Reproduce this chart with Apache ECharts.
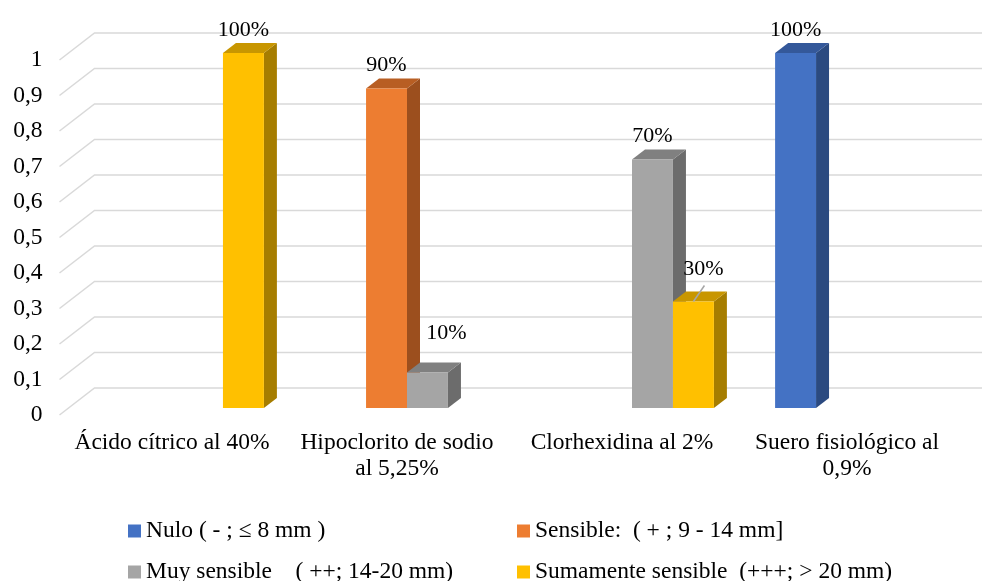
<!DOCTYPE html>
<html>
<head>
<meta charset="utf-8">
<script src="https://cdn.jsdelivr.net/npm/echarts@6/dist/echarts.min.js"></script>
<style>
  html, body { margin: 0; padding: 0; background: #fff; }
  #chart { width: 982px; height: 581px; }
</style>
</head>
<body>
<div id="chart"></div>
<script>
// categories (x axis)
var categories = ['Ácido cítrico al 40%', 'Hipoclorito de sodio\nal 5,25%', 'Clorhexidina al 2%', 'Suero fisiológico al\n0,9%'];

// one array per series
var nulo = [0, 0, 0, 1];
var sensible = [0, 0.9, 0, 0];
var muySensible = [0, 0.1, 0.7, 0];
var sumamente = [1, 0, 0.3, 0];

var seriesNames = [
  'Nulo ( - ; ≤ 8 mm )',
  'Sensible:  ( + ; 9 - 14 mm]',
  'Muy sensible    ( ++; 14-20 mm)',
  'Sumamente sensible  (+++; > 20 mm)'
];

// y tick labels
var yTicks = [0, 0.1, 0.2, 0.3, 0.4, 0.5, 0.6, 0.7, 0.8, 0.9, 1];

// style stuff
var colors = [
  { front: '#4472C4', top: '#34589a', side: '#2b4a80' },
  { front: '#ED7D31', top: '#b85e23', side: '#9c4f1e' },
  { front: '#A5A5A5', top: '#808080', side: '#6c6c6c' },
  { front: '#FFC000', top: '#c89600', side: '#a67d00' }
];
var FONT = 'Liberation Serif, Times New Roman, serif';
var WALL = [35, -27];      // back wall offset
var SHIFT = [10, -7];      // bars sit a bit into the depth
var DEPTH = [13, -10];     // bar thickness
var BAR_RATIO = 0.182;
// manual label moves (series-category)
var labelNudge = { '2-1': [19, -16, false], '3-2': [10, -9, true] };
// legend slots: [left, top]
var legendPos = [[128, 519], [517, 519], [128, 560], [517, 560]];

var allSeries = [nulo, sensible, muySensible, sumamente];

function barRenderer(sIdx) {
  return function (params, api) {
    var ci = api.value(0);
    var v = api.value(1);
    if (!v) return;
    var base = api.coord([ci, 0]);
    var topPt = api.coord([ci, v]);
    var band = api.size([1, 0])[0];
    var w = band * BAR_RATIO;
    var x0 = base[0] + SHIFT[0] - 2 * w + sIdx * w;
    var x1 = x0 + w;
    var yb = base[1] + SHIFT[1];
    var yt = topPt[1] + SHIFT[1];
    var c = colors[sIdx];
    var children = [
      { type: 'polygon', shape: { points: [[x1, yb], [x1 + DEPTH[0], yb + DEPTH[1]], [x1 + DEPTH[0], yt + DEPTH[1]], [x1, yt]] }, style: { fill: c.side } },
      { type: 'polygon', shape: { points: [[x0, yt], [x1, yt], [x1 + DEPTH[0], yt + DEPTH[1]], [x0 + DEPTH[0], yt + DEPTH[1]]] }, style: { fill: c.top } },
      { type: 'rect', shape: { x: x0, y: yt, width: w, height: yb - yt }, style: { fill: c.front } }
    ];
    var lx = (x0 + x1) / 2;
    var ly = yt - 23;
    var nudge = labelNudge[sIdx + '-' + ci];
    if (nudge) {
      lx += nudge[0];
      ly += nudge[1];
      if (nudge[2]) {
        children.push({ type: 'line', shape: { x1: lx + 1, y1: ly + 16, x2: (x0 + x1) / 2, y2: yt }, style: { stroke: '#a6a6a6', lineWidth: 1.5 } });
      }
    }
    children.push({
      type: 'text',
      style: { text: Math.round(v * 100) + '%', x: lx, y: ly, align: 'center', verticalAlign: 'middle', font: '22px ' + FONT, fill: '#000' }
    });
    return { type: 'group', children: children };
  };
}

function wallRenderer(params, api) {
  var v = api.value(1);
  var p = api.coord([0, v]);
  var left = params.coordSys.x;
  var pts = [[left, p[1]], [left + WALL[0], p[1] + WALL[1]], [api.getWidth(), p[1] + WALL[1]]];
  return { type: 'polyline', shape: { points: pts }, style: { stroke: '#d9d9d9', lineWidth: 1.5, fill: null } };
}

var series = [{
  type: 'custom',
  name: 'wall',
  silent: true,
  z: 1,
  renderItem: wallRenderer,
  data: yTicks.map(function (t) { return [0, t]; })
}];
allSeries.forEach(function (vals, sIdx) {
  series.push({
    type: 'custom',
    name: seriesNames[sIdx],
    z: 2,
    itemStyle: { color: colors[sIdx].front },
    renderItem: barRenderer(sIdx),
    data: vals.map(function (v, i) { return [i, v]; })
  });
});

var legendText = { fontFamily: FONT, fontSize: 23.5, color: '#000' };
var legends = seriesNames.map(function (name, i) {
  return {
    data: [name], left: legendPos[i][0], top: legendPos[i][1],
    itemWidth: 13, itemHeight: 13, icon: 'rect', textStyle: legendText, selectedMode: false, padding: 0
  };
});

var option = {
  animation: false,
  backgroundColor: '#fff',
  grid: { left: 59.5, right: 22.5, top: 60, bottom: 166 },
  legend: legends,
  xAxis: {
    type: 'category',
    data: categories,
    axisLine: { show: false },
    axisTick: { show: false },
    axisLabel: { margin: 15, fontFamily: FONT, fontSize: 23.5, color: '#000', lineHeight: 26, interval: 0 }
  },
  yAxis: {
    type: 'value',
    min: 0,
    max: 1,
    interval: 0.1,
    splitLine: { show: false },
    axisLine: { show: false },
    axisTick: { show: false },
    axisLabel: {
      margin: 17, fontFamily: FONT, fontSize: 23.5, color: '#000',
      formatter: function (v) { return String(Math.round(v * 10) / 10).replace('.', ','); }
    }
  },
  series: series
};

var chart = echarts.init(document.getElementById('chart'));
chart.setOption(option);
</script>
</body>
</html>
